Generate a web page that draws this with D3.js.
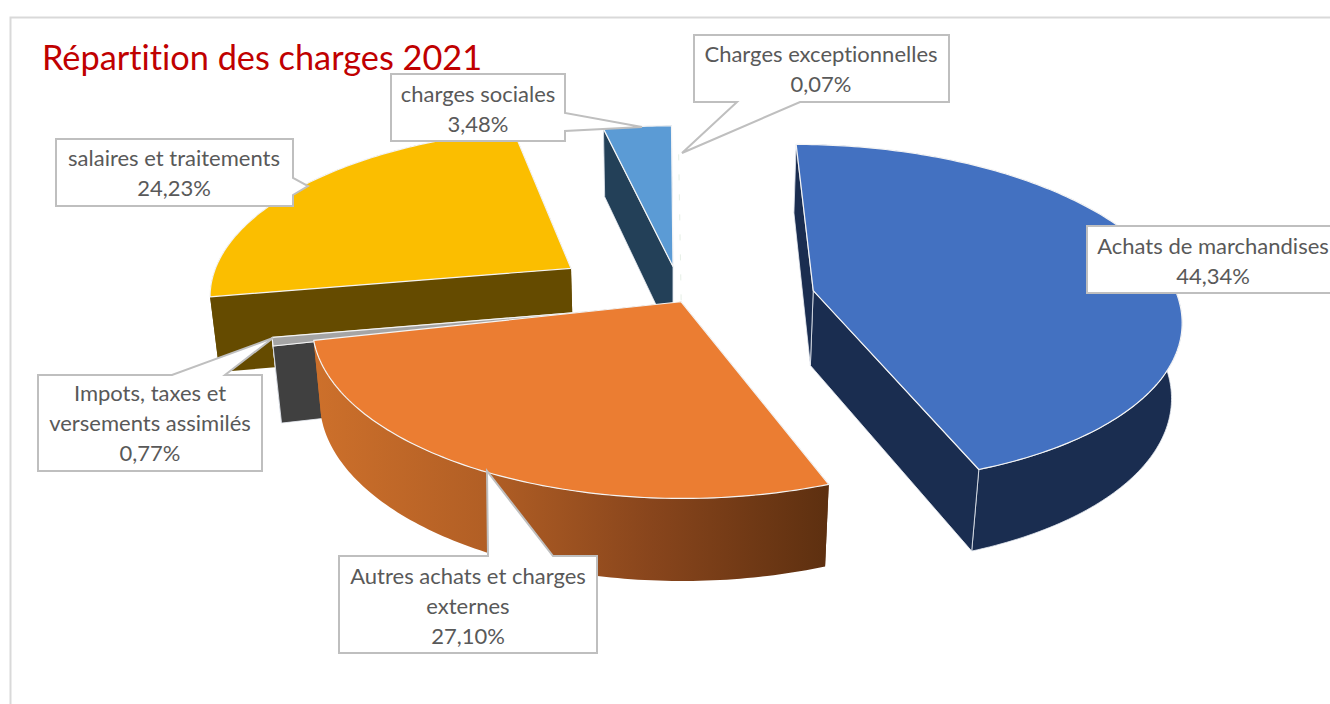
<!DOCTYPE html>
<html>
<head>
<meta charset="utf-8">
<script src="https://cdn.jsdelivr.net/npm/d3@7"></script>
<style>
	html, body { margin: 0; padding: 0; background: #fff; overflow: hidden; }
	text { font-family: Lato, "Open Sans", sans-serif; font-variant-ligatures: none; }
</style>
</head>
<body>
<div id="chart-area"></div>
<script>
// Values
const categories = ["Achats de marchandises", "Autres achats et charges externes", "Impots, taxes et versements assimilés", "salaires et traitements", "charges sociales", "Charges exceptionnelles"];
const shares = [44.34, 27.10, 0.77, 24.23, 3.48, 0.07];

// Colours of the top faces and the side walls
const topColors = ["#4371c1", "#eb7d32", "#a5a5a5", "#fbbe00", "#5b9bd5", "#ffffff"];
const wallColors = ["#1a2d50", "url(#orangeWall)", "#404040", "#654b00", "#234058", "#ffffff"];

// How far each slice is pulled out of the pie, in the plane of the pie [right, towards viewer]
const explode = [[140, 23], [9, 47], [-28, 58], [-102, -26], [1, -30], [9, 44]];

// Draw order, back to front
const drawOrder = [4, 5, 3, 2, 1, 0];

// Data label boxes: text lines centre, box corners and the tail of the callout
const labelLines = [
	["Achats de marchandises"],
	["Autres achats et charges", "externes"],
	["Impots, taxes et", "versements assimilés"],
	["salaires et traitements"],
	["charges sociales"],
	["Charges exceptionnelles"]
];
const labelBoxes = [
	{x0: 1087, y0: 226, x1: 1334, y1: 293, cx: 1213, first: 246},
	{x0: 339, y0: 556, x1: 597, y1: 653, cx: 468, first: 576, tail: {side: "top", a: 488, b: 553, tip: [487, 471]}},
	{x0: 38, y0: 375, x1: 262, y1: 471, cx: 150, first: 393, tail: {side: "top", a: 172, b: 225, tip: [273, 338]}},
	{x0: 56, y0: 139, x1: 293, y1: 206, cx: 174, first: 158, tail: {side: "right", a: 178, b: 195, tip: [308, 186]}},
	{x0: 391, y0: 74, x1: 565, y1: 141, cx: 478, first: 94, tail: {side: "right", a: 113, b: 131, tip: [642, 127]}},
	{x0: 694, y0: 35, x1: 949, y1: 102, cx: 821, first: 54, tail: {side: "bottom", a: 737, b: 800, tip: [682, 153]}}
];

let width = 1330;
let height = 704;

let svg = d3.select("#chart-area").append("svg")
	.attr("width", width)
	.attr("height", height);

// Orange wall gets darker from left to right
let grad = svg.append("defs").append("linearGradient")
	.attr("id", "orangeWall")
	.attr("gradientUnits", "userSpaceOnUse")
	.attr("x1", 314).attr("x2", 826).attr("y1", 0).attr("y2", 0);
[[0, "#cd702b"], [0.33, "#b25f25"], [0.66, "#88451c"], [1, "#5e3010"]].forEach(s => {
	grad.append("stop").attr("offset", s[0]).attr("stop-color", s[1]);
});

// Chart frame, only top and left are in the picture
svg.append("path")
	.attr("d", d3.line()([[10.5, 704], [10.5, 17.5], [1330, 17.5]]))
	.attr("fill", "none")
	.attr("stroke", "#d9d9d9")
	.attr("stroke-width", 2);

// Perspective camera
let cam = {cx: 672, cy: 280, k: 0.455, p: 0.00038, q: 0.00027};
let radius = 359;
let thickness = 76;

function project(u, v, z) {
	let w = 1 / (1 - cam.p * v + cam.q * z);
	return [cam.cx + u * w, cam.cy + (v * cam.k + z) * w];
}

// Pie layout, first slice starts straight up
let pie = d3.pie().sort(null);
let arcs = pie(shares);

let closed = d3.line().curve(d3.curveLinearClosed);

function rimPoints(d, i, z) {
	let [ou, ov] = explode[i];
	let n = Math.max(2, Math.ceil((d.endAngle - d.startAngle) * 60));
	return d3.range(n + 1).map(j => {
		let a = d.startAngle + (d.endAngle - d.startAngle) * j / n;
		return project(ou + radius * Math.sin(a), ov - radius * Math.cos(a), z);
	});
}

drawOrder.forEach(i => {
	let d = arcs[i];
	let [ou, ov] = explode[i];
	let g = svg.append("g").attr("class", "slice");

	let apexTop = project(ou, ov, 0);
	let apexBottom = project(ou, ov, thickness);
	let rimTop = rimPoints(d, i, 0);
	let rimBottom = rimPoints(d, i, thickness);
	let last = rimTop.length - 1;

	if (i === 5) {
		// the 0,07% slice is almost nothing, only a faint dotted trace
		g.append("path")
			.attr("d", d3.line()([apexTop, rimTop[0]]))
			.attr("stroke", "#e6efe6")
			.attr("stroke-dasharray", "6 14")
			.attr("fill", "none");
		return;
	}

	// outer wall first so its edge never shows over the flat walls
	let walls = [
		rimTop.concat(rimBottom.slice().reverse()),
		[apexTop, rimTop[last], rimBottom[last], apexBottom],
		[apexTop, rimTop[0], rimBottom[0], apexBottom]
	];
	g.selectAll(".wall").data(walls).join("path")
		.attr("class", "wall")
		.attr("d", closed)
		.attr("fill", wallColors[i])
		.attr("stroke", i === 1 || i === 3 ? "none" : "#e8ecf2")
		.attr("stroke-width", 0.8);

	g.append("path")
		.attr("d", closed([apexTop].concat(rimTop)))
		.attr("fill", topColors[i])
		.attr("stroke", "#f4f4f4")
		.attr("stroke-width", 1.2)
		.attr("stroke-linejoin", "round");
});

// Callouts
function calloutPoints(b) {
	let t = b.tail;
	if (!t) return [[b.x0, b.y0], [b.x1, b.y0], [b.x1, b.y1], [b.x0, b.y1]];
	if (t.side === "top") return [[b.x0, b.y0], [t.a, b.y0], t.tip, [t.b, b.y0], [b.x1, b.y0], [b.x1, b.y1], [b.x0, b.y1]];
	if (t.side === "right") return [[b.x0, b.y0], [b.x1, b.y0], [b.x1, t.a], t.tip, [b.x1, t.b], [b.x1, b.y1], [b.x0, b.y1]];
	return [[b.x0, b.y0], [b.x1, b.y0], [b.x1, b.y1], [t.b, b.y1], t.tip, [t.a, b.y1], [b.x0, b.y1]];
}

let labels = svg.selectAll(".label").data(categories).join("g").attr("class", "label");

labels.append("path")
	.attr("d", (d, i) => closed(calloutPoints(labelBoxes[i])))
	.attr("fill", "#fff")
	.attr("stroke", "#bfbfbf")
	.attr("stroke-width", 2);

labels.each(function(d, i) {
	let b = labelBoxes[i];
	let lines = labelLines[i].concat(shares[i].toFixed(2).replace(".", ",") + "%");
	d3.select(this).selectAll("text").data(lines).join("text")
		.attr("x", b.cx)
		.attr("y", (l, j) => b.first + j * 30)
		.attr("dy", "0.35em")
		.attr("text-anchor", "middle")
		.attr("font-size", 22)
		.attr("fill", "#595959")
		.text(l => l);
});

// Title
svg.append("text")
	.attr("x", 42)
	.attr("y", 70)
	.attr("font-size", 34.3)
	.attr("fill", "#c00000")
	.text("Répartition des charges 2021");
</script>
</body>
</html>
